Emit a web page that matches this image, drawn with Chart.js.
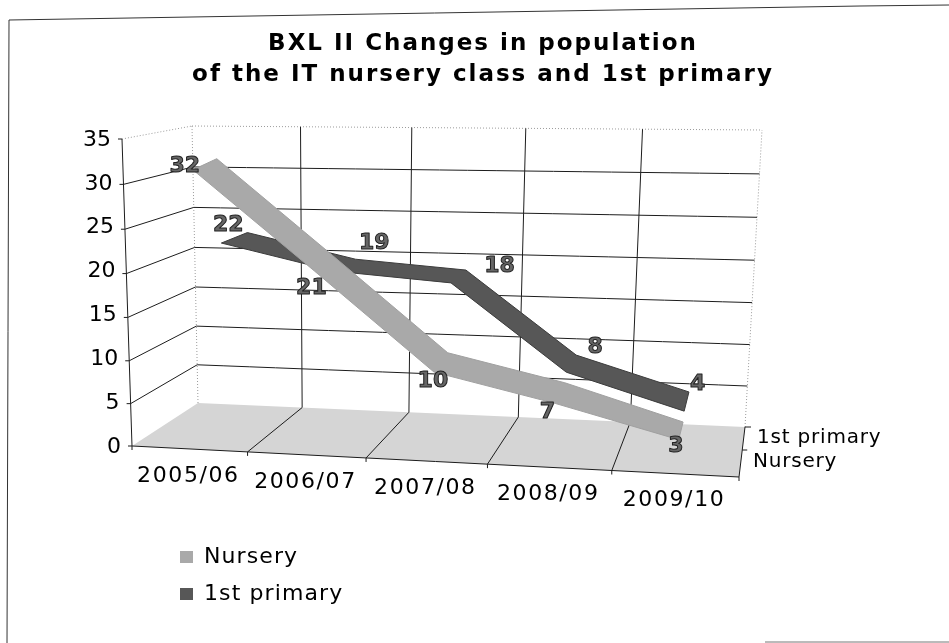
<!DOCTYPE html>
<html>
<head>
<meta charset="utf-8">
<style>html,body{margin:0;padding:0;background:#fff}canvas{display:block}</style>
<script src="https://cdn.jsdelivr.net/npm/chart.js@4/dist/chart.umd.js"></script>
</head>
<body>
<canvas id="c" width="949" height="643"></canvas>
<script>
const categories = ['2005/06', '2006/07', '2007/08', '2008/09', '2009/10'];
const nursery = [32, 21, 10, 7, 3];
const primary = [22, 19, 18, 8, 4];
const titleLines = ['BXL II Changes in population', 'of the IT nursery class and 1st primary'];
const seriesNames = ['Nursery', '1st primary'];
const yTicks = { min: 0, max: 35, step: 5 };

// Offsets of the value labels from the ribbon centre (layout only)
const nurseryLabelShift = [[-20, 5], [-12, 28], [-8, 21], [-13, 22], [-5, 15]];
const primaryLabelShift = [[-6, -13], [29, -22], [41, -10], [24, -16], [11, -17]];

const FONT = '"DejaVu Sans"';
// Perspective box: corners as [x,y] for (front/back, left/right, floor/top)
const BOX = {
  fl0: [132, 446], fr0: [739, 477], fl1: [122, 139], fr1: [766, 147],
  bl0: [198, 403], br0: [745, 427], bl1: [192, 126], br1: [762, 130]
};
const warpX = t => 0.94 * t + 0.06 * t * t;
const warpY = t => 0.96 * t + 0.04 * t * t;
const mix = (a, b, k) => [a[0] + (b[0] - a[0]) * k, a[1] + (b[1] - a[1]) * k];

function boxPoint(t, s, g) {
  const f = warpX(t), h = warpY(s);
  const front = mix(mix(BOX.fl0, BOX.fr0, f), mix(BOX.fl1, BOX.fr1, f), h);
  const back = mix(mix(BOX.bl0, BOX.br0, f), mix(BOX.bl1, BOX.br1, f), h);
  return mix(front, back, g);
}
// scale pixels -> position in the box
function project(chart, px, py, g) {
  const a = chart.chartArea;
  return boxPoint((px - a.left) / (a.right - a.left), (a.bottom - py) / (a.bottom - a.top), g);
}
const DEPTH = [[0.15, 0.53], [0.58, 1.0]];
const NEAR_DROP = [5, 0];

function seg(ctx, p, q) { ctx.beginPath(); ctx.moveTo(p[0], p[1]); ctx.lineTo(q[0], q[1]); ctx.stroke(); }

// wrap a drawing method of a library box so its text gets letter spacing
function spaced(obj, method, ctx, px) {
  const orig = obj[method];
  obj[method] = function () {
    ctx.letterSpacing = px + 'px';
    orig.apply(this, arguments);
    ctx.letterSpacing = '0px';
  };
}

const scene = {
  id: 'scene',
  beforeDraw(chart) {
    const ctx = chart.ctx;
    // scanned page frame
    ctx.save();
    ctx.strokeStyle = '#333'; ctx.lineWidth = 1;
    ctx.beginPath(); ctx.moveTo(7, 643); ctx.lineTo(9, 20); ctx.lineTo(860, 6); ctx.lineTo(949, 5); ctx.stroke();
    ctx.strokeStyle = '#777';
    seg(ctx, [765, 642], [949, 642]);
    ctx.restore();

    // title centre
    const tb = chart.titleBlock; tb.left = 0; tb.right = 966;
    // legend place
    const lg = chart.legend;
    lg.left = 165; lg.right = 400; lg.top = 531; lg.bottom = 720;

    const ys = chart.scales.y, xs = chart.scales.x;
    if (!chart.$spaced) {
      chart.$spaced = true;
      spaced(tb, 'draw', ctx, 2);
      spaced(lg, 'draw', ctx, 1.1);
      spaced(xs, 'drawLabels', ctx, 1.6);
    }

    // axis tick labels follow the perspective
    ys.getLabelItems(chart.chartArea).forEach((it, i) => {
      const py = ys.getPixelForTick(i);
      const p = project(chart, chart.chartArea.left, py, 0);
      it.options.translation = [p[0] - 11, py + 1];
      it.options.textAlign = 'right';
      it.options.textBaseline = 'middle';
      it.textOffset = 0;
    });
    xs.getLabelItems(chart.chartArea).forEach((it, i) => {
      const p = project(chart, xs.getPixelForTick(i), chart.chartArea.bottom, 0);
      it.options.translation = [p[0] - 1, p[1] + 27];
      it.options.textAlign = 'center';
      it.options.textBaseline = 'middle';
      it.textOffset = 0;
    });
  },
  beforeDatasetsDraw(chart) {
    const ctx = chart.ctx, ys = chart.scales.y;
    ctx.save();
    // floor
    ctx.fillStyle = '#d5d5d5';
    ctx.beginPath();
    [BOX.fl0, BOX.bl0, BOX.br0, BOX.fr0].forEach((p, i) => i ? ctx.lineTo(p[0], p[1]) : ctx.moveTo(p[0], p[1]));
    ctx.closePath(); ctx.fill();

    const n = categories.length;
    // dotted outline of the walls
    ctx.strokeStyle = '#9a9a9a'; ctx.lineWidth = 1; ctx.setLineDash([1, 2]);
    seg(ctx, BOX.bl0, BOX.bl1); seg(ctx, BOX.br0, BOX.br1);
    seg(ctx, BOX.fl1, BOX.bl1);
    ctx.beginPath();
    for (let k = 0; k <= 20; k++) { const p = boxPoint(k / 20, 1, 1); k ? ctx.lineTo(p[0], p[1]) : ctx.moveTo(p[0], p[1]); }
    ctx.stroke();
    ctx.setLineDash([]);

    ctx.strokeStyle = '#1c1c1c'; ctx.lineWidth = 1;
    // horizontal grid, on side wall and back wall
    ys.ticks.forEach(tk => {
      const s = (tk.value - yTicks.min) / (yTicks.max - yTicks.min);
      if (s > 0 && s < 1) {
        seg(ctx, boxPoint(0, s, 0), boxPoint(0, s, 1));
        ctx.beginPath();
        for (let k = 0; k <= 20; k++) { const p = boxPoint(k / 20, s, 1); k ? ctx.lineTo(p[0], p[1]) : ctx.moveTo(p[0], p[1]); }
        ctx.stroke();
      }
      // tick on front axis
      const q = boxPoint(0, s, 0);
      seg(ctx, [q[0] - 4, q[1]], q);
    });
    // vertical grid and floor lines at category borders
    for (let i = 0; i <= n; i++) {
      const t = i / n;
      if (i > 0 && i < n) {
        seg(ctx, boxPoint(t, 0, 1), boxPoint(t, 1, 1));
        seg(ctx, boxPoint(t, 0, 0), boxPoint(t, 0, 1));
      }
      const q = boxPoint(t, 0, 0);
      seg(ctx, q, [q[0], q[1] + 4]);
    }
    // axes
    seg(ctx, BOX.fl0, BOX.fl1);
    seg(ctx, BOX.fl0, BOX.fr0);
    seg(ctx, BOX.fr0, BOX.br0);
    // depth axis ticks and series names
    ctx.fillStyle = '#000';
    ctx.font = '20px ' + FONT;
    ctx.letterSpacing = '0.8px';
    ctx.textBaseline = 'middle';
    ctx.textAlign = 'left';
    const mid = mix(BOX.fr0, BOX.br0, 0.54);
    seg(ctx, mid, [mid[0] + 5, mid[1]]);
    seg(ctx, BOX.br0, [BOX.br0[0] + 6, BOX.br0[1]]);
    ctx.fillText(seriesNames[1], 757, 438);
    ctx.fillText(seriesNames[0], 753, 462);
    ctx.letterSpacing = '0px';
    ctx.restore();
  },
  beforeDatasetDraw(chart, args) {
    const meta = args.meta, ctx = chart.ctx;
    const ds = chart.data.datasets[args.index];
    const g = DEPTH[args.index];
    const drop = NEAR_DROP[args.index];
    const last = meta.data.length - 1;
    const near = meta.data.map((pt, i) => {
      const p = project(chart, pt.x, pt.y, g[0]);
      return [p[0], p[1] + (i === last ? 0 : drop)];
    });
    const far = meta.data.map(pt => project(chart, pt.x, pt.y, g[1]));
    ctx.save();
    ctx.fillStyle = ds.backgroundColor;
    ctx.strokeStyle = ds.borderColor;
    ctx.lineWidth = 1;
    ctx.beginPath();
    far.forEach((p, i) => i ? ctx.lineTo(p[0], p[1]) : ctx.moveTo(p[0], p[1]));
    near.slice().reverse().forEach(p => ctx.lineTo(p[0], p[1]));
    ctx.closePath();
    ctx.fill(); ctx.stroke();
    ctx.restore();
    return false;
  },
  afterDatasetsDraw(chart) {
    const ctx = chart.ctx;
    ctx.save();
    ctx.font = 'bold 22px ' + FONT;
    ctx.textAlign = 'center';
    ctx.textBaseline = 'middle';
    ctx.lineWidth = 1;
    ctx.lineJoin = 'round';
    [[0, nurseryLabelShift, nursery], [1, primaryLabelShift, primary]].forEach(([idx, shift, vals]) => {
      const meta = chart.getDatasetMeta(idx);
      const g = (DEPTH[idx][0] + DEPTH[idx][1]) / 2;
      meta.data.forEach((pt, i) => {
        const p = project(chart, pt.x, pt.y, g);
        const x = p[0] + shift[i][0], y = p[1] + shift[i][1];
        ctx.fillStyle = '#666';
        ctx.strokeStyle = '#222';
        ctx.fillText(String(vals[i]), x, y);
        ctx.strokeText(String(vals[i]), x, y);
      });
    });
    ctx.restore();
  }
};

new Chart(document.getElementById('c'), {
  type: 'line',
  data: {
    labels: categories,
    datasets: [
      { label: seriesNames[0], data: nursery, backgroundColor: '#a9a9a9', borderColor: '#a0a0a0', borderWidth: 0, pointRadius: 0, tension: 0 },
      { label: seriesNames[1], data: primary, backgroundColor: '#575757', borderColor: '#3c3c3c', borderWidth: 0, pointRadius: 0, tension: 0 }
    ]
  },
  plugins: [scene],
  options: {
    responsive: false,
    animation: false,
    layout: { padding: { left: 72, right: 210, top: 0, bottom: 97 } },
    scales: {
      x: {
        offset: true,
        grid: { display: false },
        border: { display: false },
        afterFit: s => { s.height = 100; },
        ticks: { color: '#000', font: { family: FONT, size: 22 }, maxRotation: 0, autoSkip: false, padding: 0 }
      },
      y: {
        min: yTicks.min, max: yTicks.max,
        grid: { display: false },
        border: { display: false },
        afterFit: s => { s.width = 50; },
        ticks: { stepSize: yTicks.step, color: '#000', font: { family: FONT, size: 22 }, padding: 0 }
      }
    },
    plugins: {
      tooltip: { enabled: false },
      title: {
        display: true,
        text: titleLines,
        color: '#000',
        font: { family: FONT, size: 23, weight: 'bold', lineHeight: 31 / 23 },
        padding: { top: 29, bottom: 48 }
      },
      legend: {
        position: 'chartArea',
        align: 'start',
        labels: { color: '#000', font: { family: FONT, size: 22 }, boxWidth: 13, boxHeight: 12, padding: 15 }
      }
    }
  }
});
</script>
</body>
</html>
